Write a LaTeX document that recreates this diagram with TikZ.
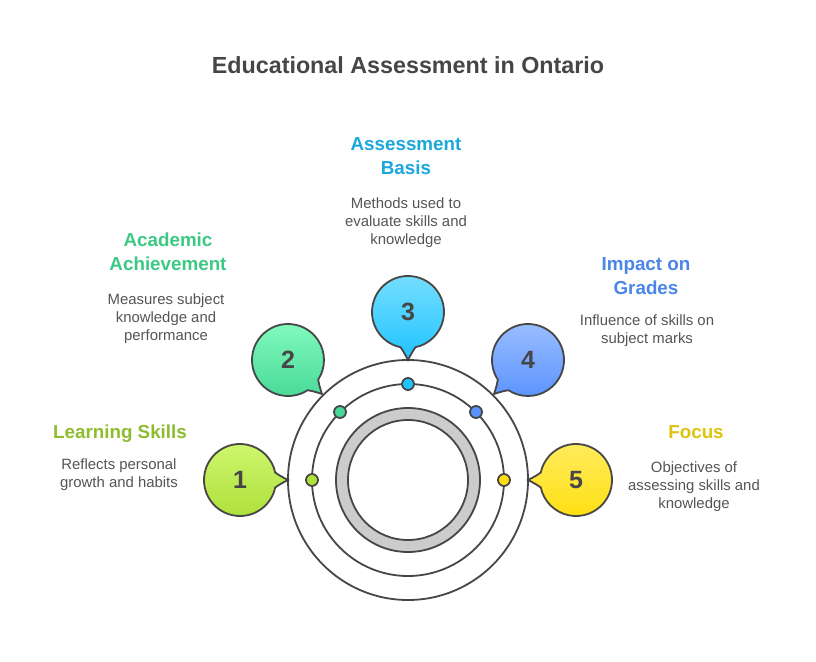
\documentclass[tikz,border=0pt]{standalone}
\usepackage{fontspec}
\setmainfont{Liberation Sans}
\usetikzlibrary{calc}
\definecolor{ink}{HTML}{464646}
\definecolor{bodytext}{HTML}{555555}
\definecolor{ringgray}{HTML}{CCCCCC}
\definecolor{cA}{HTML}{8FBC2F}\definecolor{cAt}{HTML}{CFF76F}\definecolor{cAb}{HTML}{ADE03A}
\definecolor{cB}{HTML}{3CC983}\definecolor{cBt}{HTML}{85FBC0}\definecolor{cBb}{HTML}{45D897}
\definecolor{cC}{HTML}{1AA7DC}\definecolor{cCt}{HTML}{78DFFF}\definecolor{cCb}{HTML}{1FC3FF}
\definecolor{cD}{HTML}{4A86E8}\definecolor{cDt}{HTML}{9DBFFF}\definecolor{cDb}{HTML}{5A93FF}
\definecolor{cE}{HTML}{DDC30B}\definecolor{cEt}{HTML}{FFEC60}\definecolor{cEb}{HTML}{FFDF10}
\tikzset{
  line/.style={draw=ink,line width=1.8pt},
  ringnode/.style={circle,line,inner sep=0pt,fill=none},
  dotnode/.style={circle,line,inner sep=0pt,minimum size=12pt},
  headtext/.style={align=center,inner sep=0pt,font=\fontsize{18.8}{24}\selectfont\bfseries},
  desctext/.style={align=center,inner sep=0pt,text=bodytext,font=\fontsize{14.9}{18}\selectfont},
  numtext/.style={inner sep=0pt,text=ink,font=\fontsize{25}{25}\selectfont\bfseries},
}
% name, cx, cy, tail direction, number, top colour, bottom colour
\newcommand{\speech}[7]{%
  \path[line,top color=#6,bottom color=#7]
    (#2,#3) ++(#4+12:36) arc[start angle=#4+12,end angle=#4+348,radius=36]
    .. controls ($(#2,#3)+(#4:40)+(#4+90:-4.2)$) .. ($(#2,#3)+(#4:48)$)
    .. controls ($(#2,#3)+(#4:40)+(#4+90:4.2)$) .. cycle;
  \node[numtext] (#1) at (#2,#3) {#5};
}
\begin{document}
\begin{tikzpicture}[x=1pt,y=-1pt]
\useasboundingbox (0,0) rectangle (816,661);
\fill[white] (0,0) rectangle (816,661);
\node[inner sep=0pt,text=ink,font=\fontsize{23.3}{28}\selectfont\bfseries] (title) at (408,65) {Educational Assessment in Ontario};
% rings
\node[ringnode,minimum size=240pt] (outer) at (408,480) {};
\node[ringnode,minimum size=192pt] (middle) at (408,480) {};
\path[fill=ringgray,even odd rule,draw=ink,line width=1.8pt] (408,480) circle[radius=72] (408,480) circle[radius=60];
\node[inner sep=0pt] (core) at (408,480) {};
% dots
\node[dotnode,fill=cAb] (d1) at (312,480) {};
\node[dotnode,fill=cBb] (d2) at (340,412) {};
\node[dotnode,fill=cCb] (d3) at (408,384) {};
\node[dotnode,fill=cDb] (d4) at (476,412) {};
\node[dotnode,fill=cEb] (d5) at (504,480) {};
% bubbles
\speech{b1}{240}{480}{0}{1}{cAt}{cAb}
\speech{b2}{288}{360}{45}{2}{cBt}{cBb}
\speech{b3}{408}{312}{90}{3}{cCt}{cCb}
\speech{b4}{528}{360}{135}{4}{cDt}{cDb}
\speech{b5}{576}{480}{180}{5}{cEt}{cEb}
% labels
\node[headtext,text=cA] (h1) at (120,434) {Learning Skills};
\node[desctext] (t1) at (119,475) {Reflects personal\\growth and habits};
\node[headtext,text=cB] (h2) at (168,252) {Academic\\Achievement};
\node[desctext] (t2) at (166,319) {Measures subject\\knowledge and\\performance};
\node[headtext,text=cC] (h3) at (406,156) {Assessment\\Basis};
\node[desctext] (t3) at (406,223) {Methods used to\\evaluate skills and\\knowledge};
\node[headtext,text=cD] (h4) at (646,276) {Impact on\\Grades};
\node[desctext] (t4) at (647,331) {Influence of skills on\\subject marks};
\node[headtext,text=cE] (h5) at (696,432) {Focus};
\node[desctext] (t5) at (694,487) {Objectives of\\assessing skills and\\knowledge};
\end{tikzpicture}
\end{document}
